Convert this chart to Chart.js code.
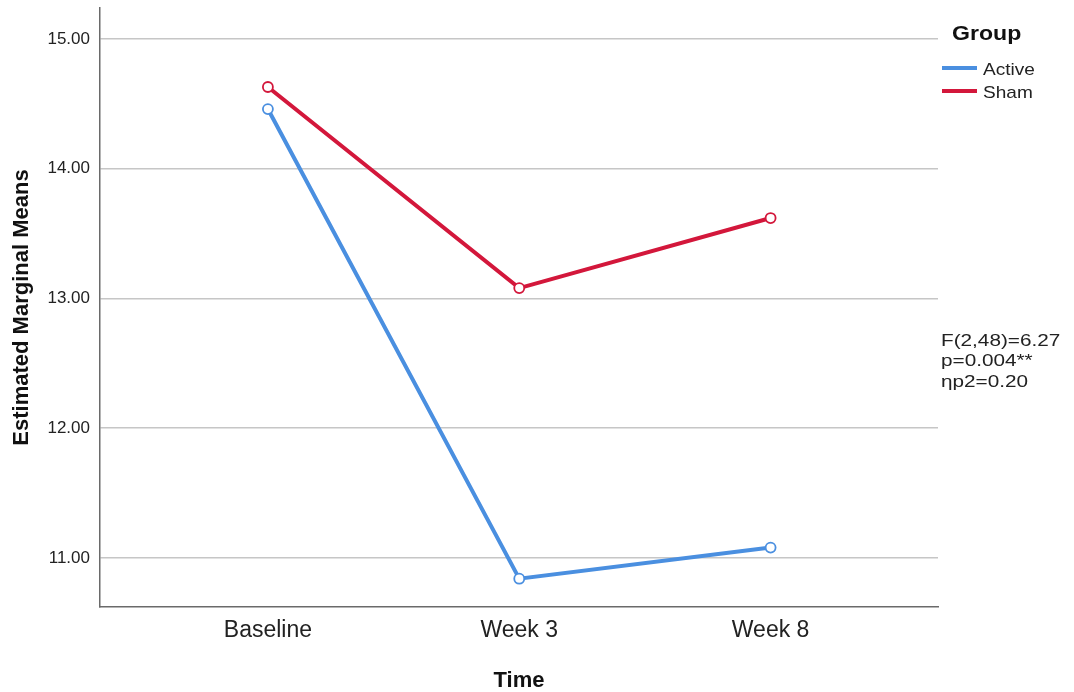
<!DOCTYPE html>
<html>
<head>
<meta charset="utf-8">
<script src="https://cdn.jsdelivr.net/npm/chart.js@4/dist/chart.umd.min.js"></script>
<style>
  html, body { margin: 0; padding: 0; background: #ffffff; }
  #wrap { width: 1074px; height: 692px; }
</style>
</head>
<body>
<div id="wrap"><canvas id="c" width="1074" height="692"></canvas></div>
<script>
const categories = ["Baseline", "Week 3", "Week 8"];
const activeMeans = [14.46, 10.84, 11.08];
const shamMeans = [14.63, 13.08, 13.62];
const yTickValues = [11, 12, 13, 14, 15];
const seriesNames = ["Active", "Sham"];
const legendTitle = "Group";
const statsLines = ["F(2,48)=6.27", "p=0.004**", "\u03b7p2=0.20"];

const FONT = "'Liberation Sans', Arial, Helvetica, sans-serif";
const BLUE = "#4a8fe0";
const RED = "#d3173b";

function toPoints(vals) { return vals.map((v, i) => ({ x: i, y: v })); }

const sidePlugin = {
  id: 'sidePlugin',
  afterDraw(chart) {
    const ctx = chart.ctx;
    ctx.save();
    // Legend
    ctx.fillStyle = '#111';
    ctx.font = "bold 21px " + FONT;
    ctx.textBaseline = 'middle';
    ctx.textAlign = 'left';
    ctx.save();
    ctx.translate(952, 34);
    ctx.scale(1.1, 1);
    ctx.fillText(legendTitle, 0, 0);
    ctx.restore();
    chart.data.datasets.forEach((ds, i) => {
      const y = 68 + i * 23;
      ctx.strokeStyle = ds.borderColor;
      ctx.lineWidth = 4;
      ctx.beginPath();
      ctx.moveTo(942, y);
      ctx.lineTo(977, y);
      ctx.stroke();
      ctx.fillStyle = '#222';
      ctx.font = "17px " + FONT;
      ctx.save();
      ctx.translate(983, y + 2);
      ctx.scale(1.12, 1);
      ctx.fillText(ds.label, 0, 0);
      ctx.restore();
    });
    // Stats annotation
    ctx.fillStyle = '#222';
    ctx.font = "17px " + FONT;
    statsLines.forEach((t, i) => {
      ctx.save();
      ctx.translate(941, 341 + i * 20.5);
      ctx.scale(1.22, 1);
      ctx.fillText(t, 0, 0);
      ctx.restore();
    });
    ctx.restore();
  }
};

new Chart(document.getElementById('c'), {
  type: 'line',
  data: {
    datasets: [
      {
        label: seriesNames[0],
        data: toPoints(activeMeans),
        borderColor: BLUE,
        backgroundColor: '#ffffff',
        borderWidth: 4,
        pointRadius: 5,
        pointBorderWidth: 1.8,
        pointBackgroundColor: '#ffffff',
        pointBorderColor: BLUE,
        tension: 0
      },
      {
        label: seriesNames[1],
        data: toPoints(shamMeans),
        borderColor: RED,
        backgroundColor: '#ffffff',
        borderWidth: 4,
        pointRadius: 5,
        pointBorderWidth: 1.8,
        pointBackgroundColor: '#ffffff',
        pointBorderColor: RED,
        tension: 0
      }
    ]
  },
  options: {
    responsive: false,
    animation: false,
    devicePixelRatio: 1,
    layout: { padding: { top: 8, right: 136, bottom: 0, left: 0 } },
    plugins: {
      legend: { display: false },
      tooltip: { enabled: false }
    },
    scales: {
      x: {
        type: 'linear',
        min: -0.668,
        max: 2.666,
        afterBuildTicks(scale) { scale.ticks = categories.map((c, i) => ({ value: i })); },
        afterFit(scale) { scale.height = 85; scale.paddingLeft = 0; scale.paddingRight = 0; },
        ticks: {
          callback: (v) => categories[v] !== undefined ? categories[v] : '',
          font: { family: FONT, size: 23 },
          color: '#222',
          padding: 10,
          maxRotation: 0,
          autoSkip: false
        },
        grid: { display: false, drawTicks: false },
        border: { display: true, color: '#6a6a6a', width: 1.5 },
        title: {
          display: true,
          text: 'Time',
          font: { family: FONT, size: 22, weight: 'bold', lineHeight: 1 },
          color: '#111',
          padding: { top: 0, bottom: 0 }
        }
      },
      y: {
        type: 'linear',
        min: 10.622,
        max: 15.239,
        afterBuildTicks(scale) { scale.ticks = yTickValues.map(v => ({ value: v })); },
        afterFit(scale) { scale.width = 100; scale.paddingTop = 0; scale.paddingBottom = 0; },
        ticks: {
          callback: (v) => Number(v).toFixed(2),
          font: { family: FONT, size: 17 },
          color: '#222',
          padding: 10
        },
        grid: { color: '#c6c6c6', lineWidth: 1.6, drawTicks: false },
        border: { display: true, color: '#6a6a6a', width: 1.5 },
        title: {
          display: true,
          text: 'Estimated Marginal Means',
          font: { family: FONT, size: 22, weight: 'bold', lineHeight: 1 },
          color: '#111',
          padding: { top: 11, bottom: 0 }
        }
      }
    }
  },
  plugins: [sidePlugin]
});
</script>
</body>
</html>
